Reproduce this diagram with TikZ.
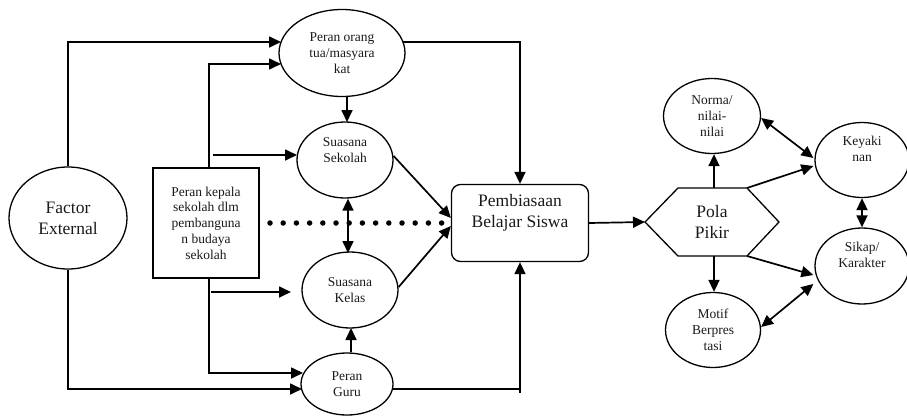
\documentclass[tikz,border=0pt]{standalone}
\usepackage{fontspec}
\setmainfont{Liberation Serif}
\usetikzlibrary{shapes.geometric,arrows.meta,calc}
\begin{document}
\begin{tikzpicture}[x=1pt,y=-1pt,
  every node/.style={align=center, inner sep=0pt},
  ell/.style={draw, ellipse, line width=1.3pt},
  sm/.style={font=\fontsize{13.5}{15.8}\selectfont, text=black!90},
  lg/.style={font=\fontsize{17.5}{21}\selectfont, text=black!90},
  tip/.tip={Triangle[length=12pt,width=11pt]},
  conn/.style={line width=1.7pt, -tip},
  bi/.style={line width=1.7pt, tip-tip},
  plain/.style={line width=1.4pt},
  dotline/.style={line width=5.5pt, line cap=round, dash pattern=on 0pt off 13.2pt}
]
\useasboundingbox (0,0) rectangle (907,420);

% nodes
\node[ell, lg, minimum width=118, minimum height=102] (fe) at (68,218) {Factor\\External};
\node[draw, line width=1.7pt, sm, minimum width=106, minimum height=110] (kep) at (206,223) {Peran kepala\\sekolah dlm\\pembanguna\\n budaya\\sekolah};
\node[ell, sm, minimum width=126, minimum height=87] (ortu) at (342,53) {Peran orang\\tua/masyara\\kat};
\node[ell, sm, minimum width=96, minimum height=76] (sek) at (345,160) {Suasana\\Sekolah\\[4pt]};
\node[ell, sm, minimum width=96, minimum height=76] (kel) at (350,290) {Suasana\\Kelas};
\node[ell, sm, minimum width=92, minimum height=62] (guru) at (347,384) {Peran\\Guru};
\node[draw, rounded corners=9pt, line width=1.3pt, lg, minimum width=137, minimum height=77] (pb) at (520,223) {Pembiasaan\\Belajar Siswa\\[4pt]};

% hexagon Pola Pikir
\coordinate (pW) at (645,222);
\coordinate (pTL) at (678,188);
\coordinate (pTR) at (747,188);
\coordinate (pE) at (779,222);
\coordinate (pBR) at (747,256);
\coordinate (pBL) at (678,256);
\draw[line width=1.3pt, line join=miter] (pW) -- (pTL) -- (pTR) -- (pE) -- (pBR) -- (pBL) -- cycle;
\node[lg] (pola) at (712,222) {Pola\\Pikir};
\coordinate (pT) at (714,188);
\coordinate (pB) at (714,256);

\node[ell, sm, minimum width=97, minimum height=75] (norma) at (712,116) {Norma/\\nilai-\\nilai};
\node[ell, sm, minimum width=94, minimum height=75] (yak) at (862,160) {Keyaki\\nan\\[6pt]};
\node[ell, sm, minimum width=94, minimum height=76] (sikap) at (862,266) {Sikap/\\Karakter\\[6pt]};
\node[ell, sm, minimum width=95, minimum height=75] (motif) at (713,330) {Motif\\Berpres\\tasi};

% free ends
\coordinate (a1) at (281,42);
\coordinate (a2) at (281,64);
\coordinate (s0) at (213,155);
\coordinate (s1) at (297,155);
\coordinate (k0) at (211,292);
\coordinate (k1) at (291,292);
\coordinate (g1) at (303,373);
\coordinate (g2) at (302,389);
\coordinate (o1) at (403,42);
\coordinate (gr) at (392,389);
\coordinate (d0) at (270,223);
\coordinate (d1) at (444,223);

% connectors
\draw[conn] (fe.north) |- (a1);
\draw[conn] (kep.north -| 209,0) |- (a2);
\draw[conn] (s0) -- (s1);
\draw[conn] (kep.south -| 209,0) |- (g1);
\draw[conn] (k0) -- (k1);
\draw[conn] (fe.south) |- (g2);
\draw[conn] (ortu.south -| 347,0) -- (347,122);
\draw[bi] (sek.south -| 348,0) -- (348,253);
\draw[conn] (guru.north -| 351,0) -- (351,328);
\draw[dotline] (d0) -- (d1);
\draw[conn] ($(sek.east)+(0,-4)$) -- ($(pb.west)+(0,-5)$);
\draw[conn] ($(kel.east)+(0,-3)$) -- ($(pb.west)+(0,3)$);
\draw[conn] (o1) -| (pb.north);
\draw[conn] (gr) -| (pb.south);
\draw[plain] (pb.south |- gr) -- ++(0,4);
\draw[conn] (pb.east) -- (pW);

\draw[conn] (pT) -- (norma.south -| pT);
\draw[conn] (pB) -- (motif.north -| pB);
\draw[conn] (pTR) -- ($(yak.west)+(-1,6)$);
\draw[conn] (pBR) -- ($(sikap.west)+(-1,9)$);
\draw[bi] ($(norma.east)+(0,2)$) -- ($(yak.west)+(-1,-2)$);
\draw[bi] ($(motif.east)+(0,-3)$) -- ($(sikap.west)+(-1,18)$);
\draw[bi] (yak.south) -- (sikap.north);
\end{tikzpicture}
\end{document}
